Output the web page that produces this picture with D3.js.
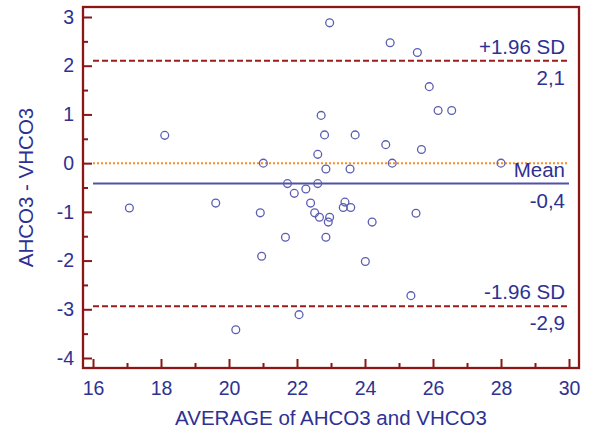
<!DOCTYPE html>
<html>
<head>
<meta charset="utf-8">
<script src="https://cdn.jsdelivr.net/npm/d3@7"></script>
<style>
  html, body { margin: 0; padding: 0; background: #fff; }
  svg { display: block; }
  text { font-family: "Liberation Sans", Arial, sans-serif; }
</style>
</head>
<body>
<svg id="chart" width="590" height="434"></svg>
<script>
// Data (Bland-Altman plot)
const avgValues  = [17.07, 18.11, 19.61, 21.01, 20.92, 21.72, 21.92, 20.96, 21.66, 20.2,
                    22.06, 24.01, 25.35, 22.85, 24.21, 25.5, 24.74, 25.54, 25.89, 26.15,
                    26.55, 24.61, 25.66, 24.8, 28.0, 22.96, 22.71, 22.81, 23.71, 22.61,
                    22.85, 23.56, 22.61, 22.26, 22.4, 23.41, 23.36, 23.58, 22.52, 22.66,
                    22.96, 22.92];
const diffValues = [-0.92, 0.57, -0.82, 0.0, -1.02, -0.42, -0.62, -1.91, -1.52, -3.42,
                    -3.11, -2.02, -2.72, -1.52, -1.21, -1.03, 2.47, 2.27, 1.57, 1.08,
                    1.08, 0.38, 0.28, 0.0, 0.0, 2.88, 0.98, 0.58, 0.58, 0.18,
                    -0.12, -0.12, -0.42, -0.53, -0.82, -0.80, -0.91, -0.91, -1.02, -1.11,
                    -1.11, -1.21];
const refNames   = ["+1.96 SD", "Mean", "-1.96 SD"];
const refValues  = [2.10, -0.42, -2.94];
const refLabels  = ["2,1", "-0,4", "-2,9"];
const xTicks     = [16, 18, 20, 22, 24, 26, 28, 30];
const xMinor     = [17, 19, 21, 23, 25, 27, 29];
const yTicks     = [-4, -3, -2, -1, 0, 1, 2, 3];
const yMinor     = [-3.5, -2.5, -1.5, -0.5, 0.5, 1.5, 2.5];
const xTitle = "AVERAGE of AHCO3 and VHCO3";
const yTitle = "AHCO3 - VHCO3";

const frameColor = "#8b1616";
const textColor = "#2e3192";
const pointColor = "#5a5eb0";

const svg = d3.select("#chart");
const L = 83, R = 579, T = 7, B = 368;

const x = d3.scaleLinear().domain([16 - 10/34, 30 + 10/34]).range([L, R]);
const y = d3.scaleLinear().domain([-4 - 10/48.75, 3 + 10/48.75]).range([B, T]);

// zero line (orange dotted)
svg.append("line")
  .attr("x1", x(16)).attr("x2", x(30))
  .attr("y1", y(0)).attr("y2", y(0))
  .attr("stroke", "#ff8a1e").attr("stroke-width", 2)
  .attr("stroke-dasharray", "2,2");

// reference lines
refValues.forEach((v, i) => {
  const isMean = i === 1;
  svg.append("line")
    .attr("x1", x(16)).attr("x2", x(30))
    .attr("y1", y(v)).attr("y2", y(v))
    .attr("stroke", isMean ? "#4f53a8" : "#9a1c1c")
    .attr("stroke-width", 2)
    .attr("stroke-dasharray", isMean ? null : "6,3");
  svg.append("text")
    .attr("x", x(30) - 4).attr("y", y(v) - 7)
    .attr("text-anchor", "end")
    .attr("font-size", 20.5).attr("fill", textColor)
    .text(refNames[i]);
  svg.append("text")
    .attr("x", x(30) - 4).attr("y", y(v) + 24)
    .attr("text-anchor", "end")
    .attr("font-size", 20.5).attr("fill", textColor)
    .text(refLabels[i]);
});

// points
svg.append("g").selectAll("circle")
  .data(avgValues.map((a, i) => [a, diffValues[i]]))
  .join("circle")
  .attr("cx", d => x(d[0])).attr("cy", d => y(d[1]))
  .attr("r", 3.9)
  .attr("fill", "none").attr("stroke", pointColor).attr("stroke-width", 1.3);

// axes
const fmt = d => String(d);
const xAxis = svg.append("g").attr("transform", `translate(0,${B})`)
  .call(d3.axisBottom(x).tickValues(xTicks).tickSize(-9).tickPadding(13).tickFormat(fmt));
const xAxisMinor = svg.append("g").attr("transform", `translate(0,${B})`)
  .call(d3.axisBottom(x).tickValues(xMinor).tickSize(-5).tickFormat(""));
const yAxis = svg.append("g").attr("transform", `translate(${L},0)`)
  .call(d3.axisLeft(y).tickValues(yTicks).tickSize(-9).tickPadding(9).tickFormat(fmt));
const yAxisMinor = svg.append("g").attr("transform", `translate(${L},0)`)
  .call(d3.axisLeft(y).tickValues(yMinor).tickSize(-5).tickFormat(""));

[xAxis, xAxisMinor, yAxis, yAxisMinor].forEach(g => {
  g.select(".domain").remove();
  g.selectAll(".tick line").attr("stroke", frameColor).attr("stroke-width", 2);
  g.selectAll(".tick text").attr("fill", textColor).attr("font-size", 19.5)
    .attr("font-family", "Liberation Sans, Arial, sans-serif");
});

// frame
svg.append("rect")
  .attr("x", L).attr("y", T).attr("width", R - L).attr("height", B - T)
  .attr("fill", "none").attr("stroke", frameColor).attr("stroke-width", 2.3);

// titles
svg.append("text")
  .attr("x", (L + R) / 2).attr("y", 425)
  .attr("text-anchor", "middle").attr("font-size", 20.5).attr("fill", textColor)
  .text(xTitle);
svg.append("text")
  .attr("transform", `translate(33,${(T + B) / 2}) rotate(-90)`)
  .attr("text-anchor", "middle").attr("font-size", 20.5).attr("fill", textColor)
  .text(yTitle);
</script>
</body>
</html>
